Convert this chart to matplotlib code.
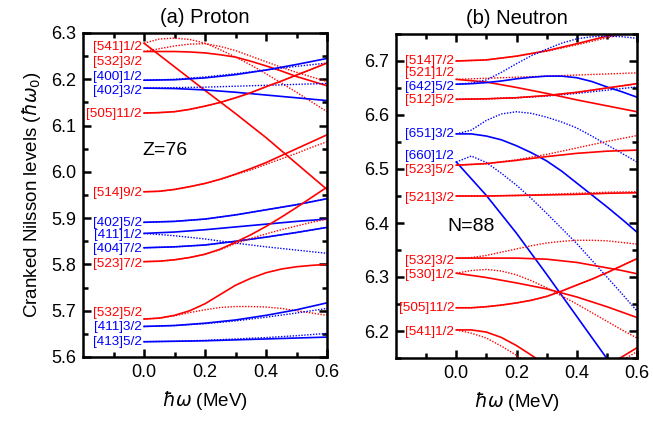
import matplotlib
matplotlib.use("Agg")
import matplotlib.pyplot as plt
from matplotlib.ticker import MultipleLocator, FixedLocator, FormatStrFormatter

plt.rcParams['font.family'] = ['Liberation Sans', 'DejaVu Sans']
plt.rcParams['mathtext.fontset'] = 'dejavusans'

# ---------------- data ----------------
W = [0.0, 0.1, 0.2, 0.3, 0.4, 0.5, 0.6]
W05 = [0.0, 0.05, 0.1, 0.15, 0.2, 0.25, 0.3, 0.35, 0.4, 0.45, 0.5, 0.55, 0.6]
W3 = [0.0, 0.05, 0.1, 0.15, 0.2, 0.25, 0.3, 0.35]

# Proton (Z=76)
proton_labels = ["[541]1/2", "[532]3/2", "[400]1/2", "[402]3/2", "[505]11/2",
                 "[514]9/2", "[402]5/2", "[411]1/2", "[404]7/2", "[523]7/2",
                 "[532]5/2", "[411]3/2", "[413]5/2"]
proton_parity = ["-", "-", "+", "+", "-", "-", "+", "+", "+", "-", "-", "+", "+"]
proton_solid = [
    (W, [6.278, 6.227, 6.176, 6.126, 6.074, 6.018, 5.962]),
    (W05, [6.260, 6.260, 6.260, 6.259, 6.257, 6.253, 6.248, 6.239, 6.229, 6.218, 6.206, 6.196, 6.186]),
    (W, [6.198, 6.199, 6.203, 6.210, 6.220, 6.232, 6.245]),
    (W, [6.181, 6.180, 6.177, 6.172, 6.166, 6.160, 6.154]),
    (W05, [6.127, 6.128, 6.130, 6.135, 6.142, 6.150, 6.160, 6.171, 6.184, 6.196, 6.209, 6.222, 6.235]),
    (W05, [5.957, 5.958, 5.962, 5.968, 5.975, 5.984, 5.995, 6.007, 6.020, 6.035, 6.050, 6.065, 6.080]),
    (W, [5.891, 5.893, 5.898, 5.907, 5.918, 5.929, 5.942]),
    (W, [5.867, 5.870, 5.875, 5.881, 5.887, 5.893, 5.898]),
    (W, [5.836, 5.838, 5.842, 5.850, 5.859, 5.869, 5.880]),
    (W05, [5.806, 5.807, 5.810, 5.815, 5.822, 5.833, 5.848, 5.864, 5.882, 5.902, 5.923, 5.945, 5.967]),
    (W05, [5.682, 5.684, 5.690, 5.700, 5.715, 5.735, 5.755, 5.770, 5.782, 5.790, 5.795, 5.798, 5.800]),
    (W, [5.666, 5.668, 5.673, 5.680, 5.690, 5.702, 5.717]),
    (W, [5.633, 5.634, 5.635, 5.637, 5.639, 5.641, 5.643]),
]
proton_dotted = [
    (W05, [6.278, 6.287, 6.289, 6.286, 6.278, 6.264, 6.248, 6.231, 6.212, 6.192, 6.172, 6.151, 6.130]),
    (W05, [6.260, 6.266, 6.272, 6.276, 6.277, 6.271, 6.262, 6.250, 6.238, 6.226, 6.215, 6.205, 6.195]),
    (W, [6.198, 6.200, 6.205, 6.212, 6.220, 6.228, 6.235]),
    (W, [6.181, 6.182, 6.183, 6.185, 6.187, 6.189, 6.191]),
    (W05, [6.127, 6.128, 6.130, 6.135, 6.142, 6.150, 6.160, 6.171, 6.184, 6.196, 6.209, 6.222, 6.235]),
    (W05, [5.957, 5.958, 5.962, 5.968, 5.975, 5.984, 5.994, 6.004, 6.016, 6.028, 6.040, 6.053, 6.065]),
    (W, [5.891, 5.893, 5.898, 5.907, 5.918, 5.929, 5.942]),
    (W, [5.867, 5.862, 5.855, 5.846, 5.838, 5.831, 5.824]),
    (W, [5.836, 5.838, 5.842, 5.850, 5.859, 5.869, 5.880]),
    (W05, [5.806, 5.807, 5.810, 5.815, 5.822, 5.832, 5.845, 5.856, 5.866, 5.875, 5.883, 5.891, 5.898]),
    (W05, [5.682, 5.684, 5.689, 5.696, 5.702, 5.707, 5.709, 5.709, 5.708, 5.705, 5.700, 5.695, 5.690]),
    (W, [5.666, 5.668, 5.672, 5.678, 5.686, 5.695, 5.705]),
    (W, [5.633, 5.634, 5.636, 5.639, 5.642, 5.646, 5.651]),
]
proton_label_E = [6.269, 6.238, 6.204, 6.175, 6.125, 5.955, 5.890, 5.864,
                  5.833, 5.801, 5.695, 5.664, 5.633]

# Neutron (N=88)
neutron_labels = ["[514]7/2", "[521]1/2", "[642]5/2", "[512]5/2", "[651]3/2",
                  "[660]1/2", "[523]5/2", "[521]3/2", "[532]3/2", "[530]1/2",
                  "[505]11/2", "[541]1/2"]
neutron_parity = ["-", "-", "+", "-", "+", "+", "-", "-", "-", "-", "-", "-"]
neutron_solid = [
    (W, [6.700, 6.702, 6.709, 6.719, 6.732, 6.746, 6.760]),
    (W, [6.666, 6.661, 6.651, 6.640, 6.628, 6.617, 6.606]),
    (W05, [6.657, 6.658, 6.660, 6.663, 6.667, 6.670, 6.672, 6.672, 6.669, 6.662, 6.652, 6.643, 6.633]),
    (W, [6.629, 6.630, 6.632, 6.636, 6.642, 6.650, 6.658]),
    (W05, [6.565, 6.565, 6.561, 6.554, 6.543, 6.530, 6.515, 6.496, 6.474, 6.452, 6.430, 6.407, 6.383]),
    (W, [6.513, 6.451, 6.381, 6.305, 6.227, 6.149, 6.070]),
    (W, [6.507, 6.510, 6.516, 6.523, 6.529, 6.533, 6.535]),
    (W, [6.450, 6.450, 6.451, 6.452, 6.453, 6.455, 6.456]),
    (W05, [6.335, 6.335, 6.335, 6.335, 6.335, 6.334, 6.333, 6.330, 6.327, 6.322, 6.317, 6.312, 6.306]),
    (W, [6.307, 6.299, 6.289, 6.278, 6.263, 6.245, 6.225]),
    (W05, [6.243, 6.243, 6.245, 6.248, 6.252, 6.257, 6.264, 6.274, 6.285, 6.296, 6.308, 6.321, 6.334]),
    (W3, [6.202, 6.202, 6.198, 6.188, 6.173, 6.155, 6.136, 6.115]),
]
neutron_dotted = [
    (W, [6.700, 6.702, 6.709, 6.718, 6.730, 6.743, 6.756]),
    (W, [6.666, 6.668, 6.670, 6.672, 6.674, 6.676, 6.678]),
    (W05, [6.657, 6.659, 6.665, 6.679, 6.695, 6.710, 6.722, 6.733, 6.741, 6.745, 6.746, 6.745, 6.742]),
    (W, [6.629, 6.630, 6.632, 6.636, 6.642, 6.650, 6.658]),
    (W05, [6.565, 6.572, 6.590, 6.602, 6.606, 6.603, 6.596, 6.587, 6.576, 6.561, 6.545, 6.529, 6.513]),
    (W05, [6.513, 6.524, 6.512, 6.492, 6.470, 6.445, 6.418, 6.390, 6.362, 6.331, 6.300, 6.269, 6.237]),
    (W, [6.507, 6.510, 6.517, 6.527, 6.539, 6.551, 6.562]),
    (W, [6.450, 6.450, 6.451, 6.453, 6.455, 6.457, 6.458]),
    (W05, [6.335, 6.336, 6.340, 6.346, 6.352, 6.358, 6.363, 6.366, 6.368, 6.368, 6.367, 6.364, 6.361]),
    (W05, [6.307, 6.312, 6.314, 6.311, 6.304, 6.293, 6.280, 6.265, 6.250, 6.234, 6.218, 6.202, 6.187]),
    (W05, [6.243, 6.243, 6.245, 6.248, 6.252, 6.257, 6.264, 6.274, 6.285, 6.296, 6.308, 6.321, 6.334]),
    (W3, [6.202, 6.196, 6.187, 6.172, 6.155, 6.136, 6.115, 6.090]),
]
neutron_label_E = [6.700, 6.677, 6.652, 6.627, 6.564, 6.524, 6.499, 6.447,
                   6.329, 6.304, 6.242, 6.198]
# unlabeled levels in the neutron panel
neutron_extra_blue_dotted = (W, [6.629, 6.630, 6.632, 6.635, 6.640, 6.646, 6.652])
neutron_extra_red_solid = ([0.4, 0.45, 0.5, 0.55, 0.6], [6.100, 6.118, 6.135, 6.152, 6.169])
neutron_extra_red_dotted = ([0.45, 0.5, 0.55, 0.6], [6.110, 6.128, 6.145, 6.162])

COL = {"-": "#ff0000", "+": "#0000ff"}
DOT = (0, (1, 1.1))

# ---------------- figure ----------------
fig = plt.figure(figsize=(6.53, 4.21), dpi=100)
axL = fig.add_axes([83 / 653, 1 - 357 / 421, (327 - 83) / 653, (357 - 33) / 421])
axR = fig.add_axes([396 / 653, 1 - 358 / 421, (637 - 396) / 653, (358 - 34) / 421])


def draw(ax, labels, parity, solid, dotted, label_E):
    for lab, p, (ws, es), (wd, ed), ly in zip(labels, parity, solid, dotted, label_E):
        c = COL[p]
        ax.plot(wd, ed, color=c, lw=1.0, ls=DOT)
        ax.plot(ws, es, color=c, lw=1.2, ls='-')
        ax.text(-0.007, ly, lab, color=c, ha='right', va='center', fontsize=9.7)


def style(ax, ylim, ymajor, yminor):
    ax.set_xlim(-0.2, 0.6)
    ax.set_ylim(*ylim)
    ax.xaxis.set_major_locator(FixedLocator([0.0, 0.2, 0.4, 0.6]))
    ax.xaxis.set_minor_locator(FixedLocator([-0.1, 0.1, 0.3, 0.5]))
    ax.yaxis.set_major_locator(MultipleLocator(ymajor))
    ax.yaxis.set_minor_locator(MultipleLocator(yminor))
    ax.yaxis.set_major_formatter(FormatStrFormatter('%.1f'))
    ax.tick_params(which='both', direction='in', top=True, right=True,
                   labelsize=13, width=1.8)
    ax.tick_params(which='major', length=6, pad=5)
    ax.tick_params(which='minor', length=3.5)
    for s in ax.spines.values():
        s.set_linewidth(1.8)
    ax.set_xticklabels(["0.0", "0.2", "0.4", "0.6"])
    ax.set_xlabel(r"$\hbar\omega$ (MeV)", fontsize=13.5, labelpad=6)


# draw unlabeled levels first so labeled levels sit on top
axR.plot(*neutron_extra_blue_dotted, color=COL["+"], lw=1.0, ls=DOT)
axR.plot(*neutron_extra_red_dotted, color=COL["-"], lw=1.0, ls=DOT)
axR.plot(*neutron_extra_red_solid, color=COL["-"], lw=1.2)

draw(axL, proton_labels, proton_parity, proton_solid, proton_dotted, proton_label_E)
draw(axR, neutron_labels, neutron_parity, neutron_solid, neutron_dotted, neutron_label_E)

style(axL, (5.6, 6.3), 0.1, 0.05)
style(axR, (6.15, 6.75), 0.1, 0.05)

axL.set_title("(a) Proton", fontsize=14.5, pad=7)
axR.set_title("(b) Neutron", fontsize=14.5, pad=7)
axL.set_ylabel(r"Cranked Nilsson levels ($\hbar\omega_0$)", fontsize=13.5, labelpad=6)

axL.text(-0.005, 6.047, "Z=76", fontsize=14, ha='left', va='center')
axR.text(-0.03, 6.393, "N=88", fontsize=14, ha='left', va='center')

fig.savefig("out.png", dpi=100)
